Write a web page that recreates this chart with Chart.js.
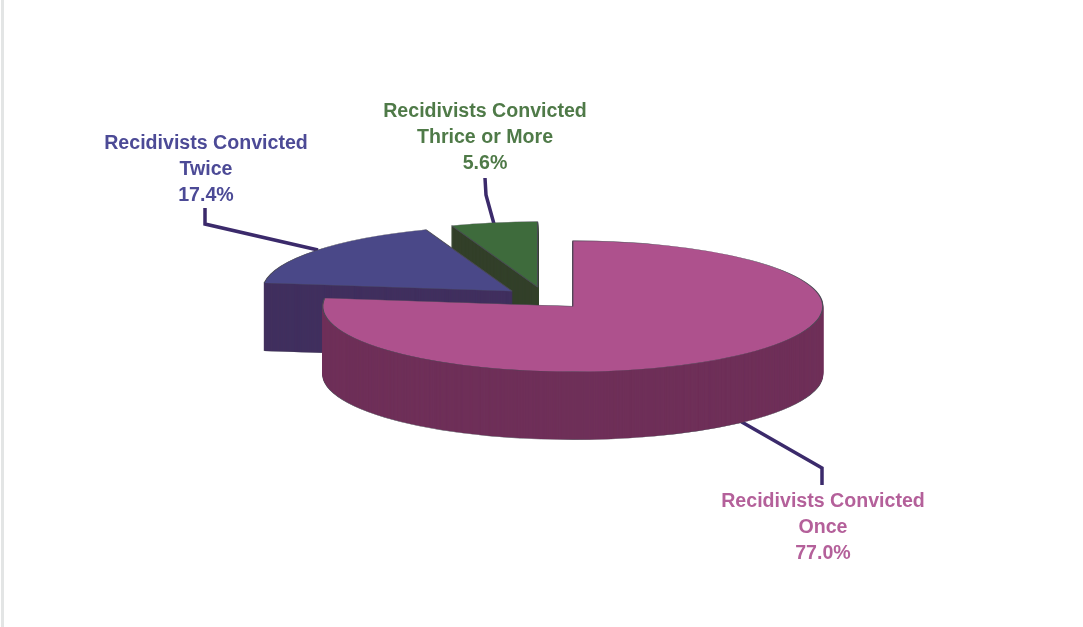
<!DOCTYPE html>
<html><head><meta charset="utf-8">
<style>
html,body{margin:0;padding:0;background:#fff;overflow:hidden}
#wrap{position:relative;width:1083px;height:627px}
#edge{position:absolute;left:1px;top:0;width:3px;height:627px;background:#e3e5e5}
canvas{position:absolute;left:0;top:0;filter:blur(0.6px)}
</style>
<script src="https://cdn.jsdelivr.net/npm/chart.js@4"></script>
</head><body>
<div id="wrap"><div id="edge"></div><canvas id="c" width="1083" height="627"></canvas></div>
<script>
const categories = ["Recidivists Convicted Once","Recidivists Convicted Twice","Recidivists Convicted Thrice or More"];
const labelLines = [["Recidivists Convicted","Once"],["Recidivists Convicted","Twice"],["Recidivists Convicted","Thrice or More"]];
const shares = [77.0,17.4,5.6];
const topColors = ["#ae518d","#4a4888","#3e6b3c"];
const wallColors = ["#6f3059","#41305f","#33402a"];
const textColors = ["#b4609a","#4c4a96","#4f7a48"];

const RATIO=0.262, DEPTH=68, EXPLODE=42, CX=545, CY=298;
const labelPos=[[823,502],[206,144],[485,112]];
const leaders=[[[740,421],[822,468],[822,485]],[[205,208],[205,224],[318,250]],[[485,178],[486,195],[494,224]]];

const pie3d={id:'pie3d',
 beforeDatasetsDraw(chart){
  const ctx=chart.ctx, arcs=chart.getDatasetMeta(0).data;
  ctx.save();
  ctx.lineCap='butt';ctx.lineJoin='miter';ctx.strokeStyle='#3b2a6b';ctx.lineWidth=3.5;
  leaders.forEach(p=>{ctx.beginPath();p.forEach((q,i)=>i?ctx.lineTo(q[0],q[1]):ctx.moveTo(q[0],q[1]));ctx.stroke();});
  [2,1,0].forEach(i=>{
   const arc=arcs[i],o=arc.options,half=(arc.startAngle+arc.endAngle)/2;
   const place=(dy)=>{ctx.save();ctx.translate(CX,CY+dy);ctx.scale(1,RATIO);
     ctx.translate(Math.cos(half)*EXPLODE-arc.x,Math.sin(half)*EXPLODE-arc.y);};
   arc.options=Object.assign(Object.create(o),{backgroundColor:wallColors[i],borderColor:'#4a4a55'});
   place(DEPTH);arc.draw(ctx);ctx.restore();
   arc.options=Object.assign(Object.create(o),{backgroundColor:wallColors[i],borderColor:wallColors[i]});
   for(let d=DEPTH-1;d>0;d--){place(d);arc.draw(ctx);ctx.restore();}
   arc.options=o;
   place(0);arc.draw(ctx);ctx.restore();
  });
  ctx.restore();
  return false;
 },
 afterDraw(chart){
  const ctx=chart.ctx;
  ctx.save();ctx.textAlign='center';ctx.textBaseline='middle';ctx.font='bold 19.6px "Liberation Sans", Arial, sans-serif';
  shares.forEach((v,i)=>{
   ctx.fillStyle=textColors[i];
   const rows=labelLines[i].concat(v.toFixed(1)+'%');
   rows.forEach((t,j)=>ctx.fillText(t,labelPos[i][0],labelPos[i][1]+j*26));
  });
  ctx.restore();
 }};

new Chart(document.getElementById('c'),{
 type:'pie',
 data:{labels:categories,datasets:[{data:shares,backgroundColor:topColors,borderColor:'#4a4a55',borderWidth:1.2}]},
 options:{responsive:false,animation:false,radius:250,
  layout:{padding:0},
  plugins:{legend:{display:false},tooltip:{enabled:false}}},
 plugins:[pie3d]
});
</script>
</body></html>
